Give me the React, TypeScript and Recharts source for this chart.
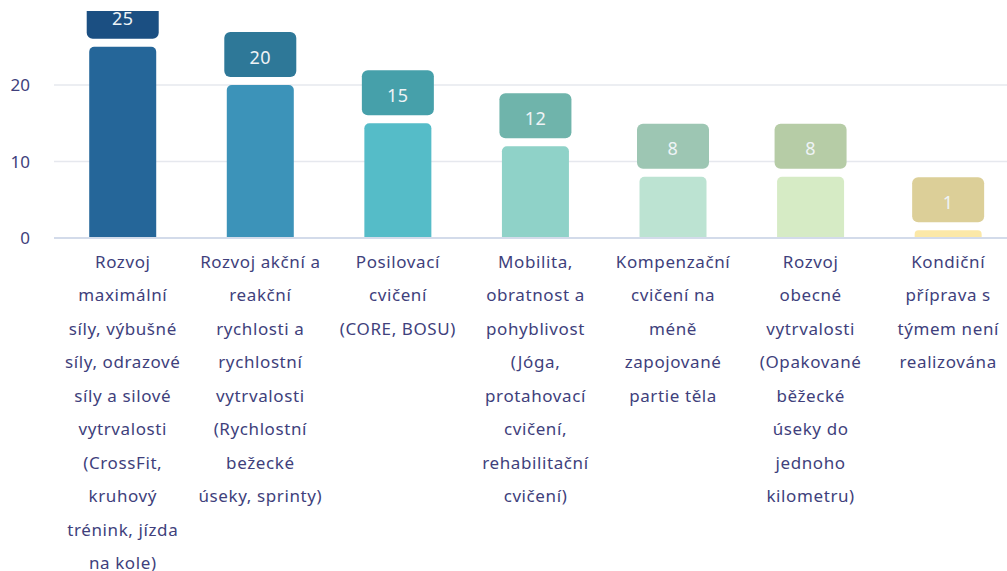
import React from 'react';
import { BarChart, Bar, XAxis, YAxis, CartesianGrid, Cell, LabelList } from 'recharts';

const categories = [
  'Rozvoj maximální síly, výbušné síly, odrazové síly a silové vytrvalosti (CrossFit, kruhový trénink, jízda na kole)',
  'Rozvoj akční a reakční rychlosti a rychlostní vytrvalosti (Rychlostní bežecké úseky, sprinty)',
  'Posilovací cvičení (CORE, BOSU)',
  'Mobilita, obratnost a pohyblivost (Jóga, protahovací cvičení, rehabilitační cvičení)',
  'Kompenzační cvičení na méně zapojované partie těla',
  'Rozvoj obecné vytrvalosti (Opakované běžecké úseky do jednoho kilometru)',
  'Kondiční příprava s týmem není realizována',
];

const tickLines = [
  ['Rozvoj', 'maximální', 'síly, výbušné', 'síly, odrazové', 'síly a silové', 'vytrvalosti', '(CrossFit,', 'kruhový', 'trénink, jízda', 'na kole)'],
  ['Rozvoj akční a', 'reakční', 'rychlosti a', 'rychlostní', 'vytrvalosti', '(Rychlostní', 'bežecké', 'úseky, sprinty)'],
  ['Posilovací', 'cvičení', '(CORE, BOSU)'],
  ['Mobilita,', 'obratnost a', 'pohyblivost', '(Jóga,', 'protahovací', 'cvičení,', 'rehabilitační', 'cvičení)'],
  ['Kompenzační', 'cvičení na', 'méně', 'zapojované', 'partie těla'],
  ['Rozvoj', 'obecné', 'vytrvalosti', '(Opakované', 'běžecké', 'úseky do', 'jednoho', 'kilometru)'],
  ['Kondiční', 'příprava s', 'týmem není', 'realizována'],
];

const values = [25, 20, 15, 12, 8, 8, 1];
const yTicks = [0, 10, 20];

const barColors = ['#256699', '#3c93b9', '#55bcc8', '#8fd2c8', '#bce3d2', '#d6ebc5', '#fbe8a8'];
const boxColors = ['#1b4f82', '#2e7898', '#46a0aa', '#6fb4ab', '#9dc6b3', '#b6cca6', '#dccf98'];

const data = categories.map((name, i) => ({ name, value: values[i], idx: i }));

const FONT = '"Noto Sans", sans-serif';
const TEXT = '#403f7c';

function CategoryTick(props: any) {
  const { x, y, payload } = props;
  const lines = tickLines[payload.index] ?? [];
  return (
    <g>
      {lines.map((line, i) => (
        <text
          key={i}
          x={x}
          y={y + 21 + i * 33.55}
          textAnchor="middle"
          dominantBaseline="central"
          fill={TEXT}
          fontSize={17}
          letterSpacing={0.6}
          fontFamily={FONT}
        >
          {line}
        </text>
      ))}
    </g>
  );
}

function ValueBox(props: any) {
  const { x, y, width, value, index } = props;
  const bw = width + 5;
  const bh = 45;
  const bx = x - 2.5;
  const by = y - 8 - bh;
  return (
    <g>
      <rect x={bx} y={by} width={bw} height={bh} rx={6} ry={6} fill={boxColors[index]} />
      <text
        x={bx + bw / 2}
        y={by + bh / 2 + 2}
        textAnchor="middle"
        dominantBaseline="central"
        fill="#eef3f6"
        fontSize={18}
        letterSpacing={0.5}
        fontFamily={FONT}
      >
        {value}
      </text>
    </g>
  );
}

export default function App() {
  return (
    <div style={{ position: 'absolute', left: 0, top: 0, width: 1007, height: 571, overflow: 'hidden', background: '#fff' }}>
      <div style={{ position: 'absolute', left: 0, top: 11, width: 1007, height: 560, overflow: 'hidden' }}>
        <div style={{ marginTop: -11 }}>
          <BarChart
            width={1017}
            height={571}
            data={data}
            margin={{ top: 8.5, right: 0, bottom: 0, left: 0 }}
            barCategoryGap="25.6%"
          >
            <CartesianGrid vertical={false} stroke="#e6e8ee" strokeWidth={1.5} />
            <XAxis
              dataKey="name"
              height={333}
              interval={0}
              tickLine={false}
              tickSize={0}
              axisLine={{ stroke: '#d3dbea', strokeWidth: 2 }}
              tick={<CategoryTick />}
            />
            <YAxis
              width={54}
              domain={[0, 30]}
              ticks={yTicks}
              axisLine={false}
              tickLine={false}
              tickSize={0}
              tickMargin={24}
              tick={{ fill: TEXT, fontSize: 17, fontFamily: FONT }}
            />
            <Bar dataKey="value" radius={[5, 5, 0, 0]} isAnimationActive={false}>
              {data.map((d) => (
                <Cell key={d.idx} fill={barColors[d.idx]} />
              ))}
              <LabelList dataKey="value" content={<ValueBox />} />
            </Bar>
          </BarChart>
        </div>
      </div>
    </div>
  );
}
